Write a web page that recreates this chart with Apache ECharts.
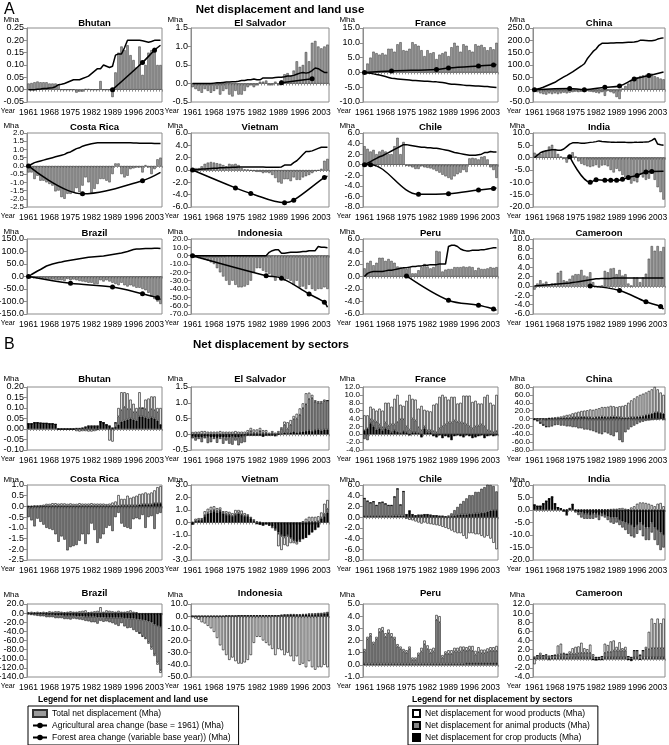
<!DOCTYPE html>
<html>
<head>
<meta charset="utf-8">
<script src="https://cdn.jsdelivr.net/npm/echarts@6/dist/echarts.min.js"></script>
<style>
html,body{margin:0;padding:0;background:#fff}
#chart{width:669px;height:745px}
</style>
</head>
<body>
<div id="chart"></div>
<script>
var years = [];
for (var yr = 1961; yr <= 2005; yr++) years.push(String(yr));

// ---- Panel A: net displacement (bars), agricultural area (line), forest area (dotted line)
var bhutanNet = [0.025,0.027,0.03,0.033,0.03,0.03,0.03,0.025,0.025,0.025,0.02,0,0,0,0,
  0,-0.012,-0.008,-0.008,0.003,0.003,0,0,0,0.035,0,0,0,-0.03,0.07,
  0.15,0.175,0.16,0.18,0.14,0.12,0.09,0.175,0.06,0.10,0.15,0.16,0.17,0.10,0.10];
var bhutanAgri = [0,0,0,0.002,0.003,0.005,0.005,0.007,0.008,0.012,0.02,0.022,0.025,0.03,0.035,
  0.04,0.04,0.04,0.045,0.05,0.055,0.065,0.075,0.085,0.085,0.1,0.095,0.09,0.095,0.14,
  0.145,0.145,0.17,0.2,0.2,0.2,0.2,0.2,0.198,0.195,0.192,0.195,0.2,0.2,0.2];
var bhutanForest = [[1989,0,1],[1999,0.11,1],[2003,0.16,1],[2005,0.18,0]];

var elSalvadorNet = [-0.1,-0.15,-0.2,-0.25,-0.15,-0.2,-0.25,-0.2,-0.15,-0.3,-0.2,-0.15,-0.3,-0.35,-0.2,
  -0.3,-0.3,-0.2,-0.1,-0.05,-0.1,-0.05,0.05,0.05,0.08,-0.05,-0.05,0.05,-0.05,0.08,
  0.25,0.28,0.2,0.35,0.6,0.45,0.5,0.85,0.6,1.1,1.15,1.0,0.95,1.0,1.05];
var elSalvadorAgri = [0,0,0,0,0,0,0,0.01,0.02,0.02,0.03,0.04,0.04,0.05,0.05,
  0.06,0.08,0.08,0.1,0.1,0.12,0.1,0.1,0.15,0.15,0.15,0.15,0.16,0.17,0.17,
  0.18,0.2,0.2,0.22,0.25,0.28,0.3,0.28,0.3,0.35,0.42,0.4,0.35,0.3,0.3];
var elSalvadorForest = [[1990,0.02,1],[2000,0.13,1]];

var franceNet = [0.5,3,5,7,6.5,6,6.5,6,8,8,7,9.5,10.2,7.5,7.3,
  8,10.2,9.5,9,7.5,5.5,7.5,6.5,6.8,4.5,6,6.5,7,5.5,8.5,
  10,9,7,9.5,9,7.5,7,9.5,9,9.3,8.5,7.5,8.5,7.8,10];
var franceAgri = [0,-0.2,-0.3,-0.5,-0.7,-0.9,-1.1,-1.4,-1.7,-2,-2.1,-2.2,-2.3,-2.4,-2.5,
  -2.6,-2.7,-2.7,-2.8,-2.9,-3,-3,-3.1,-3.2,-3.2,-3.3,-3.4,-3.6,-3.8,-4,
  -4,-4.1,-4.2,-4.3,-4.4,-4.4,-4.5,-4.6,-4.6,-4.7,-4.8,-4.8,-4.9,-5,-5.1];
var franceForest = [[1961,0,1],[1970,0.5,1],[1985,1.0,1],[1989,1.5,1],[1999,2.2,1],[2004,2.5,1],[2005,2.7,0]];

var chinaNet = [-5,-10,-15,-18,-20,-15,-18,-15,-18,-15,-12,-15,-12,-10,-8,
  -10,-8,-10,-5,-8,-10,-12,-15,-10,-25,-5,-10,-15,-30,-38,
  5,15,25,35,45,50,55,58,60,62,65,55,50,45,42];
var chinaAgri = [0,3,6,10,15,20,25,30,38,45,52,58,65,72,80,
  88,96,105,125,140,155,165,180,188,188,188,189,189,190,190,
  190,191,192,192,193,195,200,200,199,198,198,200,205,208,210];
var chinaForest = [[1961,0,1],[1973,5,1],[1978,0,1],[1985,10,1],[1990,15,1],[1995,43,1],[2000,57,1],[2005,72,0]];

var costaRicaNet = [-0.4,-0.4,-0.8,-0.6,-0.9,-0.9,-1.0,-1.1,-1.2,-1.55,-1.5,-1.9,-2.0,-1.7,-1.7,
  -1.6,-1.35,-1.6,-1.2,-0.7,-1.0,-1.65,-1.4,-1.1,-0.8,-0.8,-0.9,-1.0,-0.5,0.15,
  0.15,-0.5,-0.7,-0.6,-0.2,-0.15,-0.1,-0.1,-0.4,0.05,-0.1,-0.5,-0.2,0.4,0.5];
var costaRicaAgri = [0,0.1,0.2,0.25,0.3,0.35,0.4,0.45,0.5,0.55,0.6,0.65,0.7,0.8,0.85,
  0.95,1.05,1.1,1.2,1.25,1.3,1.35,1.38,1.4,1.4,1.4,1.4,1.4,1.4,1.4,
  1.4,1.4,1.4,1.4,1.4,1.39,1.39,1.38,1.38,1.38,1.37,1.37,1.36,1.36,1.36];
var costaRicaForest = [[1961,0,1],[1979,-1.7,1],[1999,-0.9,1],[2005,-0.4,0]];

var vietnamNet = [0.1,0.3,0.3,0.6,1.0,1.2,1.3,1.2,1.1,1.0,0.8,0.6,1.0,0.9,1.0,
  0.8,0.3,0.1,0.05,-0.1,-0.2,-0.3,-0.3,-0.5,-0.4,-0.5,-0.8,-1.3,-2.0,-2.2,
  -1.5,-1.5,-1.8,-1.2,-1.6,-1.6,-1.2,-1.0,-0.8,-0.5,-0.2,-0.1,0.2,1.5,1.8];
var vietnamAgri = [0,0.05,0.1,0.15,0.15,0.2,0.25,0.3,0.3,0.35,0.35,0.4,0.4,0.45,0.45,
  0.5,0.5,0.5,0.5,0.5,0.5,0.5,0.5,0.5,0.45,0.45,0.45,0.45,0.45,0.5,
  0.8,0.8,0.8,1.2,1.5,2.0,2.5,3.0,3.0,3.1,3.3,3.5,3.7,3.7,3.7];
var vietnamForest = [[1961,0,1],[1975,-2.9,1],[1980,-3.8,1],[1991,-5.3,1],[1994,-4.9,1],[2004,-1.2,1],[2005,-1.0,0]];

var chileNet = [3.5,3.0,2.5,2.8,2.0,2.5,2.8,2.5,2.0,2.0,3.5,5.1,2.0,4.3,-0.2,
  -0.3,-0.5,-0.8,-0.8,-0.3,-0.5,-0.6,-0.7,-0.9,-1.2,-1.5,-1.9,-2.2,-2.5,-2.8,
  -2.2,-1.8,-1.5,-1.0,-1.4,1.2,1.3,1.2,1.0,1.5,1.6,1.0,-0.5,-1.0,-2.5];
var chileAgri = [0,0.3,0.6,0.9,1.2,1.5,1.7,2.0,2.3,2.6,2.9,3.2,3.5,3.8,3.8,
  3.7,3.6,3.5,3.4,3.3,3.3,3.2,3.2,3.1,3.1,3.0,2.9,2.8,2.7,2.5,
  2.3,2.2,2.1,2.0,1.9,1.8,1.8,1.8,1.9,2.0,2.3,2.3,2.5,2.4,2.4];
var chileForest = [[1961,0,1],[1963,0,1],[1979,-5.6,1],[1989,-5.5,1],[1999,-4.8,1],[2004,-4.5,1],[2005,-4.4,0]];

var indiaNet = [2,1.5,1.5,2.5,3,4.5,5.2,3.5,1.5,0.5,-0.5,-2,0.5,2.2,0.5,
  -1.5,-2.5,-3,-3.5,-3.8,-3.5,-3,-4,-3.2,-3,-3.5,-5,-6,-4.5,-5.5,
  -7,-8,-9,-10.5,-9.5,-10,-7,-8,-9,-8.5,-6,-9,-12,-14,-17];
var indiaAgri = [0,1,2,2.5,2.8,3,3.2,3.2,3.0,3.0,3.5,4.5,5.5,6,6,
  6,5.8,5.8,6,6.2,6.3,6.5,6.8,6.6,6.5,6.4,6.3,6.3,6.2,6.2,
  6.2,6.2,6.1,6.1,6.2,6.2,6.3,6.3,6.4,6.5,7.0,7.8,5.5,5.2,5.0];
var indiaForest = [[1973,0.4,1],[1980,-10,1],[1982,-9,1],[1985,-9.2,1],[1987,-9.2,1],[1989,-9.2,1],[1991,-8.8,1],[1993,-8.0,1],[1996,-7.2,1],[1999,-5.8,1],[2001,-5.6,1],[2005,-5.5,0]];

var brazilNet = [-2,-3,-5,-5,-8,-8,-10,-12,-12,-14,-15,-15,-18,-10,-15,
  -12,-15,-18,-20,-22,-25,-25,-30,-30,-15,-20,-15,-20,-25,-30,
  -35,-25,-35,-40,-35,-40,-45,-45,-50,-55,-65,-80,-90,-100,-110];
var brazilAgri = [0,8,15,22,28,35,42,46,50,53,56,58,61,63,65,
  67,69,71,73,75,77,78,79,80,81,82,84,86,88,90,
  92,94,97,100,104,108,110,110,111,112,112,112,113,113,112];
var brazilForest = [[1961,0,1],[1975,-27,1],[1989,-42,1],[1999,-69,1],[2004,-85,1],[2005,-92,0]];

var indonesiaNet = [-1,-2,-3,-4,-5,-6,-8,-10,-15,-20,-25,-30,-35,-30,-35,
  -38,-38,-37,-35,-30,-20,-15,-15,-18,-20,-22,-25,-30,-25,-25,
  -30,-28,-30,-35,-30,-38,-37,-40,-35,-40,-42,-40,-40,-38,-40];
var indonesiaAgri = [0,0,0,0,0,0,0,0,0,0,0,0,0,0,0,
  0,0,0,0,0,0,0,0,0,0,4,6,7,7,3,
  3,3.5,4,4,4,4.5,5,5,6,6,6,11,10,10,9.5];
var indonesiaForest = [[1961,0,1],[1985,-24,1],[1990,-27,1],[1999,-46,1],[2004,-56,1],[2005,-62,0]];

var peruNet = [1.3,2.2,2.5,1.8,2.2,3.0,3.0,2.5,2.8,2.5,2.2,1.6,1.5,1.3,1.2,
  1.5,0.5,0.5,1.0,1.5,2.0,1.6,1.3,1.5,4.1,4.0,0.8,1.1,1.2,1.2,
  1.5,1.5,1.5,1.6,1.5,1.6,1.5,1.0,1.4,1.2,1.2,1.3,1.5,1.4,1.5];
var peruAgri = [0,0.5,0.7,0.8,0.8,0.8,0.8,0.9,1.0,1.0,1.1,1.2,1.3,1.4,1.4,
  1.5,1.6,1.6,1.7,1.7,1.8,1.8,1.9,1.9,1.9,2.0,2.0,2.0,4.8,5.0,
  5.0,4.8,4.4,4.2,4.1,4.1,4.2,4.2,4.2,4.3,4.3,4.4,4.5,4.6,4.6];
var peruForest = [[1975,0.1,1],[1989,-3.8,1],[1999,-4.6,1],[2004,-5.2,1],[2005,-5.4,0]];

var cameroonNet = [-0.8,0.5,1.2,0.5,0.9,0.3,0.5,0.5,2.8,3.2,1.2,1.0,1.5,2.2,2.5,
  2.5,3.4,2.2,2.0,2.9,0.8,-0.3,-0.3,0,3.2,2.9,3.7,3.8,2.5,3.4,
  2.2,2.5,0.5,0,1.8,1.8,0.8,1.8,2.6,5.8,8.5,7.5,8.5,7.4,8.3];
var cameroonAgri = [0,0.05,0.1,0.15,0.2,0.25,0.3,0.35,0.4,0.45,0.5,0.55,0.6,0.7,0.8,
  0.9,1.0,1.1,1.2,1.3,1.4,1.5,1.5,1.6,1.6,1.6,1.6,1.7,1.7,1.7,
  1.7,1.7,1.7,1.7,1.7,1.7,1.7,1.7,1.7,1.7,1.7,1.7,1.7,1.7,1.7];
var cameroonForest = [[1980,0,1],[1990,-1.0,1],[1999,-3.4,1],[2004,-4.4,1],[2005,-5.0,0]];

// ---- Panel B: net displacement by sector (stacked bars)
var bhutanCrop = [0.025,0.025,0.03,0.03,0.028,0.027,0.027,0.025,0.025,0.022,0,0,0,0,0,
  0,0.003,0.003,0.005,0.01,0.015,0.015,0.015,0.015,0.035,0.03,0.02,0.015,0.005,0.01,
  0.02,0.035,0.04,0.045,0.05,0.045,0.04,0.06,0.06,0.055,0.05,0.055,0.05,0.04,0.02];
var bhutanAnimal = [0,0,0,0,0,0,0,0,0,0,0,0,0,0,0,
  0,0,0,0,0,0,0,0,0,0,0,0,0,0,0.02,
  0.04,0.055,0.065,0.05,0.045,0.035,0.04,0.04,0.04,0.04,0.03,0.04,0.04,0.04,0];
var bhutanWood = [0,0,0,0,0,0,0,0,0,0,0,0,0,0,0,
  0,-0.01,-0.012,-0.01,-0.01,-0.012,-0.012,-0.01,-0.005,0,0,0,-0.055,-0.06,0,
  0.04,0.085,0.07,0.075,0.045,0.04,0.02,0.075,0,0.045,0.065,0.06,0.065,0.02,0.08];

var elSalvadorCrop = [-0.08,-0.1,-0.1,-0.1,-0.08,-0.08,-0.1,-0.1,-0.12,-0.1,-0.1,-0.1,-0.1,-0.08,-0.1,
  -0.1,-0.08,-0.05,-0.05,-0.05,-0.05,-0.05,-0.05,-0.08,-0.05,-0.03,-0.05,-0.05,-0.02,0.02,
  0.05,0.03,0.05,0.08,0.05,0.07,0.08,0.1,0.12,0.1,0.13,0.15,0.12,0.15,0.15];
var elSalvadorAnimal = [-0.05,-0.1,-0.05,-0.15,-0.05,-0.2,-0.15,-0.05,-0.15,-0.05,-0.2,-0.1,-0.2,-0.25,-0.1,
  -0.25,-0.2,-0.2,0.05,0.1,0.05,0.05,0.1,0.05,0.05,-0.02,0.05,0,0.05,0.15,
  0.25,0.15,0.25,0.4,0.45,0.55,0.75,0.85,1.0,1.05,0.9,0.85,0.88,0.9,0.92];
var elSalvadorWood = [0.07,0.08,0.08,0.1,0.1,0.08,0.08,0.08,0.08,0.1,0.08,0.08,0.08,0.08,0.1,
  0.08,0.08,0.08,0.08,0.1,0.1,0.1,0.1,0.08,0.08,0.05,0.05,0.05,0.05,0.05,
  0.1,0.2,0.15,0.1,0.15,0.2,0.15,0.35,0.2,0.1,0.05,0.05,0.05,0.05,0];

var franceCrop = [1.0,1.5,2.8,2.0,1.2,1.5,1.0,1.5,1.2,0.5,1.0,0.6,0.3,0.8,0.5,
  -0.3,0.5,0.5,0.3,-0.8,1.5,0.5,0.5,-0.5,-0.8,-0.3,-1.0,-0.5,-0.8,-1.5,
  -0.5,-0.3,-0.5,-0.8,-0.3,-0.5,-1.0,-0.8,-0.5,-0.3,-1.0,-0.5,-0.3,-0.5,-0.3];
var franceAnimal = [-1.2,-1.5,1.0,1.5,2.0,1.0,0.8,1.5,1.0,2.0,1.5,2.5,3.5,3.0,1.5,
  1.2,3.5,3.0,1.5,1.0,0.5,0.5,0.5,0.8,0.5,1.5,2.0,2.5,3.0,3.0,
  3.5,3.2,3.0,2.8,2.5,2.0,1.5,2.0,2.2,2.5,2.0,1.0,0.8,0.5,0.8];
var franceWood = [3.8,3.3,3.2,3.0,2.8,4.0,4.2,5.0,5.8,4.5,6.5,6.9,3.7,3.4,6.5,
  8.8,5.0,5.3,4.7,6.2,4.2,5.0,4.8,6.7,7.3,8.0,8.0,7.0,5.8,6.5,
  6.0,4.6,5.0,7.0,7.3,7.8,6.7,6.5,5.6,5.3,7.5,9.0,7.2,7.0,9.2];

var chinaCrop = [-1,-1,-2,-2,-3,-2,-2,-1,-1,0,1,2,2,3,3,
  3,4,4,3,3,2,3,4,5,4,3,4,5,4,3,
  2,1,2,3,3,4,5,6,8,10,12,15,16,14,12];
var chinaAnimal = [-2,-5,-10,-15,-18,-20,-18,-16,-15,-18,-18,-20,-20,-22,-22,
  -25,-25,-28,-28,-30,-32,-35,-38,-40,-35,-38,-42,-45,-35,-55,
  -60,-35,-28,-22,-18,-14,-10,-8,-6,-5,-4,-3,-3,-2,-4];
var chinaWood = [0,0,0,0,0,1,2,3,4,5,6,7,8,10,12,
  14,15,16,18,20,20,21,22,24,25,27,28,26,25,28,
  30,33,38,43,48,52,55,57,58,60,62,65,58,52,48];

var costaRicaCrop = [-0.05,-0.05,-0.03,-0.02,-0.02,0,0.02,0.02,0.03,0.03,0.03,0.02,0.02,0.02,0.02,
  0.02,0.02,0.03,0.03,0.03,0.03,0.03,0.03,0.03,0.03,0.03,0.03,0.03,0.03,0.03,
  0.03,0.05,0.05,0.05,0.05,0.05,0.05,0.08,0.1,0.1,0.1,0.1,0.15,0.15,0.15];
var costaRicaAnimal = [-0.45,-0.6,-0.9,-0.55,-0.7,-0.85,-1.0,-1.05,-1.1,-1.3,-1.65,-1.4,-1.55,-2.05,-1.9,
  -1.85,-1.8,-1.6,-1.3,-1.75,-1.3,-0.8,-1.1,-1.7,-1.5,-1.3,-1.0,-0.9,-1.15,-0.5,
  -0.3,-0.8,-0.95,-1.0,-1.05,-0.6,-0.55,-0.6,-0.4,-1.0,-0.5,-0.45,-1.05,-0.35,-0.3];
var costaRicaWood = [0.02,0.03,0.05,0.05,0.06,0.08,0.1,0.1,0.12,0.12,0.1,0.12,0.12,0.1,0.12,
  0.1,0.1,0.12,0.1,0.1,0.1,0.12,0.1,0.1,0.1,0.1,0.08,0.1,0.15,0.2,
  0.5,0.3,0.3,0.45,0.35,0.4,0.45,0.5,0.5,0.55,0.5,0.55,0.6,0.75,0.8];

var vietnamCrop = [-0.15,0.1,0.15,0.2,0.5,0.7,0.8,0.9,0.8,0.9,0.7,0.6,0.6,0.5,0.6,
  0.7,0.6,0.5,0.5,0.3,0.1,-0.1,-0.15,-0.2,-0.1,-0.2,-0.3,-0.5,-0.8,-1.0,
  -1.1,-1.0,-1.2,-1.4,-1.5,-1.4,-1.3,-1.2,-1.0,-0.8,-0.6,-0.4,0.3,0.5,0.8];
var vietnamAnimal = [0,0.05,0.05,0.05,0.1,0.1,0.15,0.1,0.15,0.1,0.1,0.1,0.05,0.05,0.1,
  0.1,0.05,0.05,0.05,0.05,0.05,0,0,0,0,0,-0.05,-0.05,-0.1,-0.1,
  -0.1,-0.1,-0.05,-0.05,-0.05,-0.05,0,0,0.05,0.05,0.05,0.1,0.1,0.2,0.3];
var vietnamWood = [0.05,0.15,0.15,0.1,0.3,0.3,0.3,0.3,0.2,0.2,0.1,0.2,0.2,0.2,0.3,
  0.2,0.3,0.2,0.1,0.1,0.1,0.1,0.05,0,-0.05,-0.05,-0.1,-0.1,-1.0,-1.1,
  -0.6,-0.8,-0.4,-0.2,-0.2,-0.1,0.1,0.3,0.4,0.4,0.4,0.4,0.4,0.8,0.7];

var chileCrop = [0.2,0.2,0.2,0.2,0.2,0.2,0.2,0.2,0.2,0.2,0.3,0.3,0.3,0.3,0.5,
  1.2,0.5,0.3,0.4,0.4,0.5,0.5,0.4,0.3,0.3,0.2,0.2,0.1,0.1,0.2,
  0.3,0.4,0.5,0.5,0.5,0.6,0.6,0.7,0.7,0.8,0.8,1.0,1.2,1.3,1.3];
var chileAnimal = [3.3,2.8,2.5,2.7,2.0,2.5,2.6,2.3,2.0,2.0,3.5,5.0,2.0,4.5,0,
  0,0,0,0,0,0,0,0,0,0,0,0,0,0.2,0.5,
  1.0,1.5,2.0,2.5,3.0,3.5,3.5,4.0,4.0,4.5,4.8,5.2,4.8,4.5,3.5];
var chileWood = [0,0,0,0,0,0,0,0,0,0,0,0,0,0,-0.3,
  -0.5,-0.6,-0.8,-1.0,-1.2,-1.0,-1.2,-1.3,-1.4,-1.5,-1.6,-1.8,-2.0,-2.2,-2.5,
  -2.8,-3.0,-3.0,-3.5,-4.0,-3.0,-3.0,-3.2,-3.2,-3.5,-3.8,-3.5,-4.0,-4.8,-6.0];

var indiaCrop = [2,1.5,1.5,2.5,3.5,4.5,5.2,2.5,1.0,0.5,-0.5,-2.0,0.5,2.2,-0.5,
  -1,-1,-1.5,-1.5,-2,-1.5,-1.5,-2,-1.5,-2,-2.5,-3,-3,-3,-4,
  -4.5,-5,-5.5,-6,-7,-6,-5,-6,-7,-7,-5,-7,-8,-9,-10];
var indiaAnimal = [0,0,0,0,0,0,0,0,0,0,0,0,0,0,-0.5,
  -1,-2,-2,-2,-1.5,-2,-1.5,-2,-1,-1,-1.5,-2,-2.5,-2,-2,
  -2.5,-3,-4,-4.5,-4,-3.5,-3,-4.5,-5,-5,-4,-5,-6,-7,-5];
var indiaWood = [0,0,0,0,0,0,0,0,0,0,0.2,0.3,0.3,0.2,0.2,
  0.2,0.2,0.2,0.2,0.2,0.2,0.3,0.3,0.3,0.3,0.3,0.4,0.5,0.5,0.7,
  0.8,0.5,0.3,1.0,1.5,2.5,3.0,3.0,2.8,2.5,2.0,1.5,2.5,2.8,1.5];

var brazilCrop = [-1,-2,-2,-3,-3,-3,-4,-4,-4,-5,-5,-5,-6,-6,-6,
  -6,-7,-7,-7,-8,-8,-8,-8,-9,-9,-9,-10,-10,-10,-10,
  -10,-10,-11,-11,-12,-12,-13,-14,-15,-16,-18,-20,-25,-28,-30];
var brazilAnimal = [-2,-2,-3,-3,-4,-4,-5,-5,-5,-6,-6,-6,-7,-7,-8,
  -6,-6,-7,-8,-9,-10,-12,-12,-14,-8,-10,-8,-10,-12,-15,
  -18,-12,-18,-22,-20,-25,-28,-30,-35,-38,-45,-55,-65,-80,-95];
var brazilWood = [2,3,2,3,2,3,2,4,3,4,4,3,2,3,4,
  3,3,4,5,6,2,3,4,5,13,3,6,5,4,3,
  5,3,3,4,6,3,2,0,-2,-3,-4,-5,-4,-5,-6];

var indonesiaCrop = [0,0,0,0,0,0,0,0,0,0,0,0.3,0.3,0.3,0.3,
  0.5,0.5,0.5,0.5,0.5,0.5,0.5,0.5,0.5,0.5,0.5,0.5,0.5,0.5,0.8,
  1.0,1.0,1.2,1.2,1.0,1.0,1.2,1.2,1.5,1.5,1.5,1.8,1.8,2.0,2.5];
var indonesiaAnimal = [0,0,0,0,0,0,0,0,0,0,0,0,0,0,0,
  0,0,0,0,0,0,0,0,0,0,0,0,0,0,0.3,
  0.5,0.5,0.5,0.5,0.6,0.6,0.6,0.7,0.7,0.7,0.8,0.8,0.9,1.0,1.0];
var indonesiaWood = [-1,-2,-3,-5,-6,-8,-10,-13,-18,-24,-28,-32,-36,-34,-37,
  -39,-39,-38,-36,-32,-22,-17,-17,-20,-22,-24,-27,-32,-27,-28,
  -32,-30,-33,-37,-33,-40,-39,-42,-37,-42,-44,-42,-42,-40,-42];

var peruCrop = [0.1,0.1,0.1,0.1,0.1,0.1,0.1,0.1,0.1,0.1,0.1,0.1,0.1,0.1,0.1,
  0.1,0.1,0.1,0.1,0.1,0.1,0.1,0.1,0.1,0.1,0.1,0.1,0.1,0.1,0.1,
  0.1,0.1,0.1,0.1,0.15,0.15,0.15,0.15,0.15,0.15,0.15,0.15,0.15,0.15,0.15];
var peruAnimal = [1.0,2.0,2.3,1.6,2.0,2.6,2.7,2.2,2.5,2.2,2.0,1.4,1.2,1.0,0.9,
  1.2,0.3,0.3,0.7,1.0,1.6,1.2,0.9,1.0,3.6,3.4,0.5,0.8,0.8,0.8,
  1.0,1.0,1.0,1.1,1.0,1.1,1.0,0.7,0.9,0.8,0.8,0.9,1.0,1.0,1.0];
var peruWood = [0.2,0.2,0.2,0.2,0.2,0.3,0.3,0.3,0.3,0.3,0.2,0.2,0.2,0.2,0.2,
  0.2,0.2,0.2,0.2,0.3,0.3,0.3,0.3,0.3,0.4,0.5,0.2,0.2,0.3,0.3,
  0.3,0.3,0.4,0.3,0.3,0.3,0.4,0.3,0.4,0.3,0.3,0.3,0.3,0.3,0.4];

var cameroonCrop = [0.2,0.2,0.3,0.2,0.3,0.2,0.2,0.2,0.3,0.3,0.3,0.2,0.3,0.3,0.3,
  0.3,0.3,0.3,0.3,0.3,-0.3,-0.4,-0.3,-0.3,0.3,0.3,0.3,0.3,0.3,0.3,
  0.3,0.3,-0.3,-0.5,0.3,0.3,-0.2,0.3,0.3,0.3,0.3,0.3,0.3,0.3,0.3];
var cameroonAnimal = [0.3,0.5,0.5,0.5,0.5,0.5,0.5,0.6,0.6,0.7,0.8,0.8,0.8,0.8,0.8,
  0.9,1.0,1.0,1.0,1.0,0.5,0.3,0.3,0.5,1.0,1.2,1.2,1.5,1.5,1.5,
  1.5,1.5,0.5,0.3,1.5,1.5,0.8,1.5,1.8,1.8,2.0,2.0,2.0,2.0,2.0];
var cameroonWood = [-1.2,0,0.5,0,0.2,-0.3,0,0,2.0,2.3,0.2,0,0.5,1.2,1.5,
  1.5,2.2,1.0,0.8,1.8,0.5,0,0,0,2.0,1.5,2.3,2.2,0.8,1.8,
  0.5,0.8,0,0,0,0,0,0,0.5,3.8,6.5,5.5,6.5,5.5,6.5];

var netName = 'Total net displacement (Mha)';
var agriName = 'Agricultural area change (base = 1961) (Mha)';
var forestName = 'Forest area change (variable base year)) (Mha)';
var woodName = 'Net displacement for wood products (Mha)';
var animalName = 'Net displacement for animal products (Mha)';
var cropName = 'Net displacement for crop products (Mha)';

var panelsA = [
  {name:'Bhutan', net:bhutanNet, agri:bhutanAgri, forest:bhutanForest, min:-0.05, max:0.25, step:0.05, dec:2},
  {name:'El Salvador', net:elSalvadorNet, agri:elSalvadorAgri, forest:elSalvadorForest, min:-0.5, max:1.5, step:0.5, dec:1},
  {name:'France', net:franceNet, agri:franceAgri, forest:franceForest, min:-10, max:15, step:5, dec:1},
  {name:'China', net:chinaNet, agri:chinaAgri, forest:chinaForest, min:-50, max:250, step:50, dec:1},
  {name:'Costa Rica', net:costaRicaNet, agri:costaRicaAgri, forest:costaRicaForest, min:-2.5, max:2.0, step:0.5, dec:1},
  {name:'Vietnam', net:vietnamNet, agri:vietnamAgri, forest:vietnamForest, min:-6, max:6, step:2, dec:1},
  {name:'Chile', net:chileNet, agri:chileAgri, forest:chileForest, min:-8, max:6, step:2, dec:1},
  {name:'India', net:indiaNet, agri:indiaAgri, forest:indiaForest, min:-20, max:10, step:5, dec:1},
  {name:'Brazil', net:brazilNet, agri:brazilAgri, forest:brazilForest, min:-150, max:150, step:50, dec:1},
  {name:'Indonesia', net:indonesiaNet, agri:indonesiaAgri, forest:indonesiaForest, min:-70, max:20, step:10, dec:1},
  {name:'Peru', net:peruNet, agri:peruAgri, forest:peruForest, min:-6, max:6, step:2, dec:1},
  {name:'Cameroon', net:cameroonNet, agri:cameroonAgri, forest:cameroonForest, min:-6, max:10, step:2, dec:1}
];
var panelsB = [
  {name:'Bhutan', crop:bhutanCrop, animal:bhutanAnimal, wood:bhutanWood, min:-0.1, max:0.2, step:0.05, dec:2},
  {name:'El Salvador', crop:elSalvadorCrop, animal:elSalvadorAnimal, wood:elSalvadorWood, min:-0.5, max:1.5, step:0.5, dec:1},
  {name:'France', crop:franceCrop, animal:franceAnimal, wood:franceWood, min:-4, max:12, step:2, dec:1},
  {name:'China', crop:chinaCrop, animal:chinaAnimal, wood:chinaWood, min:-80, max:80, step:20, dec:1},
  {name:'Costa Rica', crop:costaRicaCrop, animal:costaRicaAnimal, wood:costaRicaWood, min:-2.5, max:1.0, step:0.5, dec:1},
  {name:'Vietnam', crop:vietnamCrop, animal:vietnamAnimal, wood:vietnamWood, min:-3, max:3, step:1, dec:1},
  {name:'Chile', crop:chileCrop, animal:chileAnimal, wood:chileWood, min:-8, max:6, step:2, dec:1},
  {name:'India', crop:indiaCrop, animal:indiaAnimal, wood:indiaWood, min:-20, max:10, step:5, dec:1},
  {name:'Brazil', crop:brazilCrop, animal:brazilAnimal, wood:brazilWood, min:-140, max:20, step:20, dec:1},
  {name:'Indonesia', crop:indonesiaCrop, animal:indonesiaAnimal, wood:indonesiaWood, min:-50, max:10, step:10, dec:1},
  {name:'Peru', crop:peruCrop, animal:peruAnimal, wood:peruWood, min:-1, max:5, step:1, dec:1},
  {name:'Cameroon', crop:cameroonCrop, animal:cameroonAnimal, wood:cameroonWood, min:-4, max:12, step:2, dec:1}
];

var FONT = '"Liberation Sans", Arial, sans-serif';
var AXIS = '#8c8c8c';
var colX = [27, 191, 363, 533];
var colW = [135, 138, 135, 132];
var rowsA = [{top:28, bottom:102, title:23, mha:20}, {top:133, bottom:207, title:127, mha:126}, {top:239, bottom:314, title:233, mha:232}];
var rowsB = [{top:387, bottom:450, title:379, mha:379}, {top:485, bottom:560, title:479, mha:480}, {top:604, bottom:677, title:593, mha:595}];

var grids = [], xAxes = [], yAxes = [], series = [], texts = [];

function label(text, x, y, size, opts) {
  opts = opts || {};
  texts.push({
    type: 'text', x: x, y: y, silent: true,
    style: {
      text: text, fill: '#000',
      font: (opts.bold ? 'bold ' : '') + size + 'px ' + FONT,
      align: opts.align || 'left', verticalAlign: 'middle'
    }
  });
}

function forestData(points) {
  var arr = years.map(function () { return null; });
  points.forEach(function (p) {
    arr[p[0] - 1961] = p[2] ? p[1] : {value: p[1], symbol: 'none'};
  });
  return arr;
}

function addGrid(p, row, col) {
  var g = grids.length;
  var x0 = colX[col], w = colW[col], h = row.bottom - row.top;
  grids.push({left: x0, top: row.top, width: w, height: h, show: true,
    borderColor: AXIS, borderWidth: 1, containLabel: false, outerBoundsMode: 'none'});
  xAxes.push({type: 'category', gridIndex: g, data: years, position: 'bottom',
    axisLine: {show: false, onZero: false}, axisTick: {show: false},
    axisLabel: {interval: 6, fontSize: 8.5, color: '#000', margin: 6, fontFamily: FONT}});
  xAxes.push({type: 'category', gridIndex: g, data: years, position: 'bottom',
    axisLine: {show: true, onZero: true, lineStyle: {color: AXIS, width: 1}},
    axisTick: {show: true, interval: 0, length: 2, lineStyle: {color: AXIS}},
    axisLabel: {show: false}});
  var n = Math.round((p.max - p.min) / p.step);
  var fs = h / n < 9 ? 8 : 9;
  yAxes.push({type: 'value', gridIndex: g, min: p.min, max: p.max, interval: p.step,
    axisLine: {show: true, lineStyle: {color: AXIS}},
    axisTick: {show: true, length: 3, lineStyle: {color: AXIS}},
    splitLine: {show: false},
    axisLabel: {fontSize: fs, color: '#000', margin: 3, fontFamily: FONT,
      formatter: function (v) { return v.toFixed(p.dec); }}});
  label(p.name, x0 + w / 2, row.title, 9.5, {bold: true, align: 'center'});
  label('Mha', x0 - 8, row.mha, 8, {align: 'right'});
  label('Year', x0 - 12, row.bottom + 9, 7, {align: 'right'});
  return g;
}

panelsA.forEach(function (p, i) {
  var g = addGrid(p, rowsA[Math.floor(i / 4)], i % 4);
  series.push({type: 'bar', name: netName, xAxisIndex: 2 * g, yAxisIndex: g, data: p.net,
    barCategoryGap: '20%',
    itemStyle: {color: '#9c9c9c', borderColor: '#333', borderWidth: 0.5}});
  series.push({type: 'line', name: agriName, xAxisIndex: 2 * g, yAxisIndex: g, data: p.agri,
    symbol: 'none', lineStyle: {color: '#000', width: 1.5}, itemStyle: {color: '#000'}});
  series.push({type: 'line', name: forestName, xAxisIndex: 2 * g, yAxisIndex: g,
    data: forestData(p.forest), connectNulls: true, smooth: 0.35,
    symbol: 'circle', symbolSize: 5, showAllSymbol: true,
    lineStyle: {color: '#000', width: 1.5}, itemStyle: {color: '#000'}});
});

panelsB.forEach(function (p, i) {
  var g = addGrid(p, rowsB[Math.floor(i / 4)], i % 4);
  var stack = 'sect' + g;
  series.push({type: 'bar', name: cropName, stack: stack, xAxisIndex: 2 * g, yAxisIndex: g,
    data: p.crop, barCategoryGap: '20%',
    itemStyle: {color: '#000', borderColor: '#000', borderWidth: 0.5}});
  series.push({type: 'bar', name: animalName, stack: stack, xAxisIndex: 2 * g, yAxisIndex: g,
    data: p.animal,
    itemStyle: {color: '#858585', borderColor: '#000', borderWidth: 0.5}});
  series.push({type: 'bar', name: woodName, stack: stack, xAxisIndex: 2 * g, yAxisIndex: g,
    data: p.wood,
    itemStyle: {color: '#fff', borderColor: '#000', borderWidth: 0.6}});
});

label('A', 4, 10, 16);
label('Net displacement and land use', 280, 10, 11.5, {bold: true, align: 'center'});
label('B', 4, 345, 16);
label('Net displacement by sectors', 271, 345, 11.5, {bold: true, align: 'center'});
label('Legend for net displacement and land use', 38, 700, 8.5, {bold: true});
label('Legend for net displacement by sectors', 412, 700, 8.5, {bold: true});

var chart = echarts.init(document.getElementById('chart'));
chart.setOption({
  animation: false,
  backgroundColor: '#fff',
  grid: grids,
  xAxis: xAxes,
  yAxis: yAxes,
  series: series,
  graphic: texts,
  legend: [
    {data: [{name: netName, icon: 'rect'}, agriName, forestName],
      orient: 'vertical', left: 28, top: 706, itemWidth: 14, itemHeight: 7, itemGap: 3,
      padding: [3, 8, 3, 4], borderColor: '#000', borderWidth: 1, selectedMode: false,
      textStyle: {fontSize: 8.5, color: '#000', fontFamily: FONT}},
    {data: [{name: woodName, icon: 'rect'}, {name: animalName, icon: 'rect'}, {name: cropName, icon: 'rect'}],
      orient: 'vertical', left: 408, top: 706, itemWidth: 7, itemHeight: 7, itemGap: 3,
      padding: [3, 8, 3, 4], borderColor: '#000', borderWidth: 1, selectedMode: false,
      textStyle: {fontSize: 8.5, color: '#000', fontFamily: FONT}}
  ]
});
</script>
</body>
</html>
